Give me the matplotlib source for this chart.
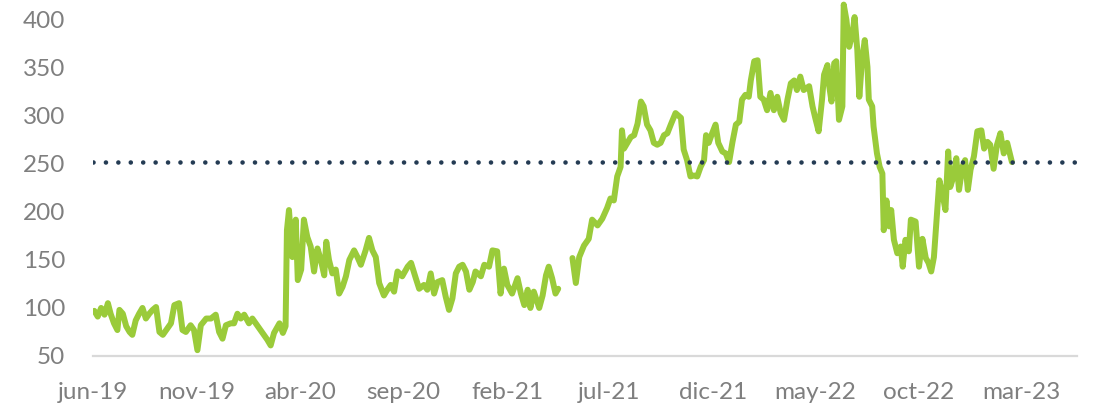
import numpy as np
import pandas as pd
import matplotlib
matplotlib.use("Agg")
import matplotlib.pyplot as plt

plt.rcParams['font.family'] = ['Lato', 'DejaVu Sans']

# serie de precios: dias desde el 1-jun-2019 y valor
inicio = pd.Timestamp("2019-06-01")
dias = [2, 7, 12, 17, 22, 26, 31, 36, 39, 44, 49, 54, 58, 63, 68, 73, 78, 83, 88, 93,
        98, 103, 108, 115, 120, 127, 132, 137, 144, 149, 154, 159, 167, 174, 181, 186, 191, 196, 203, 208,
        213, 218, 223, 230, 235, 243, 250, 257, 262, 267, 275, 280, 284, 286, 289, 294, 299, 302, 307, 311,
        316, 321, 326, 331, 336, 341, 344, 348, 353, 358, 363, 368, 373, 378, 385, 390, 395, 402, 407, 412,
        417, 422, 429, 434, 439, 444, 449, 456, 464, 469, 476, 481, 488, 493, 498, 503, 508, 515, 520, 525,
        530, 535, 540, 545, 550, 555, 560, 564, 572, 577, 584, 589, 596, 601, 606, 611, 618, 626, 631, 636,
        641, 645, 650, 658, 663, 668, 672, 677, 682, 686,
        696,
        707, 712, 717, 724, 731, 736, 744, 751, 758, 763, 768, 773, 778, 780, 783, 788, 793, 798, 803, 808,
        812, 817, 822, 827, 832, 837, 842, 847, 852, 859, 867, 871, 876, 881, 886, 891, 896, 901, 904, 908,
        913, 918, 922, 928, 933, 938, 943, 948, 953, 957, 962, 967, 970, 975, 980, 984, 989, 994, 999, 1004,
        1009, 1014, 1019, 1024, 1029, 1034, 1038, 1043, 1048, 1056, 1061, 1065, 1070, 1075, 1078, 1083, 1085, 1089, 1093, 1096,
        1100, 1105, 1107, 1111, 1115, 1120, 1123, 1127, 1130, 1134, 1138, 1142, 1144, 1149, 1151, 1156, 1160, 1164, 1166, 1170,
        1174, 1177, 1181, 1186, 1191, 1194, 1198, 1203, 1206, 1213, 1218, 1223, 1228, 1232, 1236, 1240, 1245, 1248, 1252, 1257,
        1261, 1264, 1269, 1273, 1277, 1282, 1286, 1290, 1294, 1299, 1304, 1310, 1314, 1319, 1323, 1328, 1333, 1338, 1343, 1348,
        1353, 1355]
valores = [97, 91, 100, 93, 105, 94, 84, 77, 98, 94, 81, 75, 72, 87, 94, 100, 89, 94, 98, 101,
           75, 72, 77, 84, 103, 105, 77, 75, 82, 77, 56, 82, 89, 89, 93, 75, 68, 82, 84, 84,
           94, 89, 93, 84, 89, 81, 74, 67, 61, 74, 84, 74, 81, 181, 202, 153, 192, 129, 140, 192,
           174, 164, 138, 162, 150, 134, 169, 150, 136, 140, 115, 122, 133, 150, 160, 153, 145, 160, 173, 160,
           153, 126, 113, 119, 124, 117, 138, 133, 143, 147, 131, 120, 124, 119, 136, 115, 127, 129, 112, 98,
           110, 136, 143, 145, 138, 119, 127, 138, 133, 145, 143, 160, 159, 115, 141, 124, 115, 131, 115, 103,
           119, 100, 117, 100, 113, 134, 143, 131, 115, 120,
           np.nan,
           152, 126, 153, 165, 172, 192, 186, 193, 204, 214, 212, 237, 247, 285, 266, 272, 278, 280, 292, 315,
           310, 291, 285, 272, 270, 272, 280, 282, 291, 303, 298, 265, 254, 237, 238, 237, 247, 254, 280, 272,
           282, 291, 272, 263, 261, 252, 273, 291, 294, 317, 322, 320, 337, 357, 358, 320, 317, 306, 324, 306,
           320, 303, 296, 317, 334, 337, 327, 341, 327, 331, 310, 298, 284, 317, 343, 353, 334, 315, 355, 357,
           296, 310, 416, 400, 372, 386, 403, 369, 320, 358, 379, 351, 317, 310, 289, 261, 247, 240, 181, 212,
           185, 202, 171, 157, 164, 143, 171, 159, 192, 190, 143, 172, 152, 147, 138, 153, 202, 233, 221, 202,
           263, 226, 237, 256, 223, 247, 254, 223, 244, 258, 284, 285, 266, 273, 270, 245, 270, 282, 261, 272,
           258, 252]
referencia = 252

tick_fechas = ["2019-06-01", "2019-11-01", "2020-04-01", "2020-09-01", "2021-02-01",
               "2021-07-01", "2021-12-01", "2022-05-01", "2022-10-01", "2023-03-01"]
tick_etiquetas = ["jun-19", "nov-19", "abr-20", "sep-20", "feb-21",
                  "jul-21", "dic-21", "may-22", "oct-22", "mar-23"]

fechas = inicio + pd.to_timedelta(dias, unit="D")

fig = plt.figure(figsize=(10.99, 4.12), dpi=100)
ax = fig.add_axes([0.0846, 0.136, 0.8954, 0.864])

# linea de referencia punteada
ax.axhline(referencia, color="#243b53", lw=3.3, linestyle=(0, (0.01, 2.7)),
           dash_capstyle="round", zorder=3)
ax.plot(fechas, valores, color="#9acb3a", lw=4.3, solid_joinstyle="round",
        solid_capstyle="round", zorder=2)

ax.set_xlim(inicio, inicio + pd.Timedelta(days=1451))
ax.set_ylim(50, 420.8)
ax.set_yticks([50, 100, 150, 200, 250, 300, 350, 400])
ax.set_xticks(pd.to_datetime(tick_fechas))
ax.set_xticklabels(tick_etiquetas)

for s in ["top", "right", "left"]:
    ax.spines[s].set_visible(False)
ax.spines["bottom"].set_color("#d9d9d9")
ax.spines["bottom"].set_linewidth(1.6)
ax.tick_params(axis="both", length=0, labelsize=17.5, labelcolor="#7f7f7f")
ax.tick_params(axis="y", pad=20)
ax.tick_params(axis="x", pad=19)

fig.savefig("out.png", dpi=100)
